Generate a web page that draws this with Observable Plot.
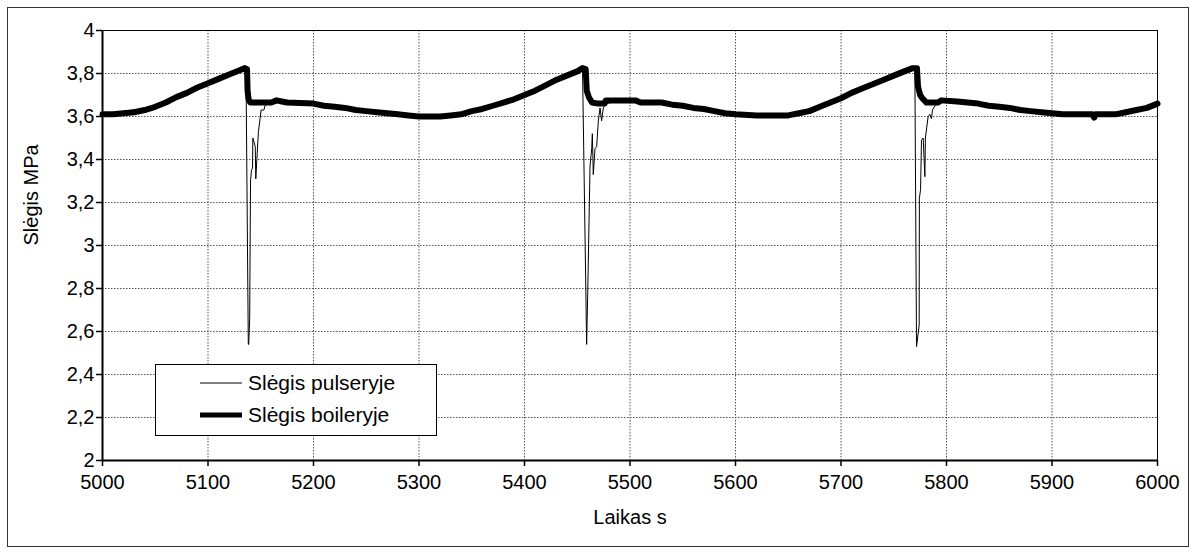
<!DOCTYPE html>
<html>
<head>
<meta charset="utf-8">
<script src="https://cdn.jsdelivr.net/npm/d3@7"></script>
<script src="https://cdn.jsdelivr.net/npm/@observablehq/plot@0.6"></script>
<style>
  html, body { margin: 0; padding: 0; background: #fff; }
  #wrap { position: relative; width: 1195px; height: 553px; font-family: "Liberation Sans", Arial, sans-serif; }
  #outer { position: absolute; left: 7px; top: 7px; width: 1180px; height: 538px; border: 1px solid #333; pointer-events: none; }
  #legend { position: absolute; left: 155px; top: 364px; width: 280px; height: 70px; border: 1px solid #000; background: #fff; font-size: 21px; color: #000; }
  .row { position: absolute; left: 0; height: 30px; display: flex; align-items: center; }
  .row svg { margin-left: 44px; }
  .row span { margin-left: 6px; white-space: nowrap; }
</style>
</head>
<body>
<div id="wrap">
  <div id="chart"></div>
  <div id="outer"></div>
  <div id="legend"></div>
</div>
<script>
// Time axis ticks (s) and pressure ticks (MPa)
const xTicks = [5000, 5100, 5200, 5300, 5400, 5500, 5600, 5700, 5800, 5900, 6000];
const yTicks = [2, 2.2, 2.4, 2.6, 2.8, 3, 3.2, 3.4, 3.6, 3.8, 4];
const seriesNames = ["Slėgis pulseryje", "Slėgis boileryje"];
const xLabel = "Laikas s";
const yLabel = "Slėgis MPa";

// Boiler pressure (thick line)
const boilerT = [5000,5010,5020,5030,5040,5050,5060,5070,5080,5090,5100,5110,5120,5130,5135,5137,5137.5,5138.5,5140,5150,5160,5165,5170,5175,5200,5210,5220,5230,5240,5250,5260,5270,5280,5290,5300,5320,5330,5340,5350,5360,5370,5380,5390,5400,5410,5420,5430,5440,5450,5455,5458,5459,5461,5464,5470,5476,5477,5490,5505,5510,5530,5540,5550,5560,5570,5580,5590,5600,5620,5650,5660,5670,5680,5690,5700,5710,5720,5730,5740,5750,5760,5768,5772,5773,5775,5777,5781,5792,5795,5810,5820,5830,5840,5850,5860,5870,5880,5890,5900,5910,5938,5940,5941,5960,5970,5980,5990,6000];
const boilerP = [3.61,3.61,3.615,3.62,3.63,3.645,3.665,3.69,3.71,3.735,3.755,3.775,3.795,3.815,3.825,3.82,3.72,3.68,3.665,3.665,3.665,3.675,3.67,3.665,3.66,3.65,3.645,3.64,3.63,3.625,3.62,3.615,3.61,3.605,3.60,3.60,3.605,3.61,3.625,3.635,3.65,3.665,3.68,3.70,3.72,3.745,3.77,3.79,3.81,3.825,3.82,3.72,3.69,3.665,3.66,3.66,3.675,3.675,3.675,3.665,3.665,3.655,3.65,3.64,3.635,3.625,3.615,3.61,3.605,3.605,3.615,3.625,3.645,3.665,3.685,3.71,3.73,3.75,3.77,3.79,3.81,3.825,3.825,3.74,3.70,3.685,3.665,3.665,3.675,3.67,3.665,3.66,3.65,3.645,3.64,3.63,3.625,3.62,3.615,3.61,3.61,3.595,3.61,3.61,3.62,3.63,3.64,3.66];

// Pulse-line pressure (thin line)
const pulseT = [5000,5050,5100,5130,5136,5138.2,5138.6,5139.5,5140.3,5141.2,5142.2,5142.5,5144.8,5145.3,5146.3,5147.8,5149.4,5150.3,5153,5154,5157,5165,5200,5250,5300,5320,5350,5400,5450,5455,5458.9,5459.9,5462.1,5463.7,5464.3,5465.2,5466.8,5468.4,5470,5471.6,5473.1,5474.7,5477.9,5490,5530,5600,5650,5700,5750,5770,5771.6,5774.1,5774.3,5775.4,5776.3,5777.9,5779.5,5780,5782.6,5784.2,5785.8,5786.7,5789,5793.7,5810,5850,5900,5960,6000];
const pulseP = [3.61,3.645,3.755,3.815,3.82,2.54,2.54,2.66,3.30,3.35,3.36,3.50,3.46,3.31,3.40,3.53,3.59,3.63,3.63,3.65,3.66,3.67,3.66,3.625,3.60,3.60,3.625,3.70,3.81,3.82,2.54,2.77,3.37,3.45,3.52,3.33,3.45,3.46,3.58,3.64,3.58,3.64,3.66,3.675,3.665,3.61,3.605,3.685,3.79,3.82,2.53,2.63,3.22,3.26,3.49,3.50,3.32,3.50,3.60,3.61,3.59,3.63,3.65,3.665,3.67,3.645,3.615,3.61,3.66];

const boiler = boilerT.map((t, i) => ({t, p: boilerP[i]}));
const pulse = pulseT.map((t, i) => ({t, p: pulseP[i]}));
const fmt = d => String(d).replace(".", ",");
const grid = {stroke: "#555", strokeOpacity: 1, strokeDasharray: "1.5,1.5", strokeWidth: 1};

const chart = Plot.plot({
  width: 1195,
  height: 553,
  marginLeft: 102,
  marginRight: 38,
  marginTop: 30,
  marginBottom: 93,
  x: {domain: [5000, 6000]},
  y: {domain: [2, 4]},
  style: {fontFamily: "'Liberation Sans', Arial, sans-serif", fontSize: "20px", color: "#000", background: "transparent"},
  marks: [
    Plot.gridX(xTicks.slice(1, -1), grid),
    Plot.gridY(yTicks.slice(1, -1), grid),
    Plot.line(pulse, {x: "t", y: "p", stroke: "#000", strokeWidth: 1}),
    Plot.line(boiler, {x: "t", y: "p", stroke: "#000", strokeWidth: 6, strokeLinejoin: "round"}),
    Plot.frame({stroke: "#000", strokeWidth: 1}),
    Plot.ruleX([5000], {stroke: "#000", strokeWidth: 2}),
    Plot.ruleY([2], {stroke: "#000", strokeWidth: 2}),
    Plot.axisX(xTicks, {tickSize: 6, tickPadding: 8, tickFormat: d => String(d), label: null, strokeWidth: 1.5}),
    Plot.axisY(yTicks, {tickSize: 6, tickPadding: 2, tickFormat: fmt, label: null, strokeWidth: 1.5}),
    Plot.text([xLabel], {frameAnchor: "bottom", dy: 63, fontSize: 20}),
    Plot.text([yLabel], {frameAnchor: "left", dx: -71, rotate: -90, fontSize: 20})
  ]
});
document.getElementById("chart").appendChild(chart);

// Legend
const legend = document.getElementById("legend");
const widths = [1, 5];
seriesNames.forEach((name, i) => {
  const row = document.createElement("div");
  row.className = "row";
  row.style.top = (i === 0 ? 3 : 35) + "px";
  const svg = d3.create("svg").attr("width", 42).attr("height", 10);
  svg.append("line").attr("x1", 0).attr("x2", 42).attr("y1", 5).attr("y2", 5)
    .attr("stroke", "#000").attr("stroke-width", widths[i]);
  row.appendChild(svg.node());
  const span = document.createElement("span");
  span.textContent = name;
  row.appendChild(span);
  legend.appendChild(row);
});
</script>
</body>
</html>
